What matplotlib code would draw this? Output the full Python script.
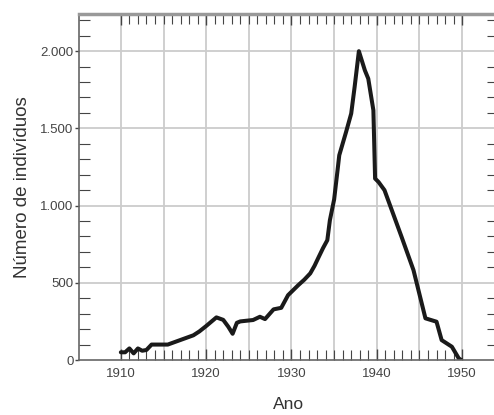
import matplotlib
matplotlib.use("Agg")
import matplotlib.pyplot as plt
from matplotlib.ticker import FixedLocator, FuncFormatter

# values
anos = [1910, 1910.5, 1911, 1911.5, 1912, 1912.5, 1913, 1913.6, 1915.5, 1916.5,
        1917.5, 1918.5, 1919.2, 1920, 1921.2, 1922, 1922.6, 1923.1, 1923.6, 1924,
        1925.5, 1926.3, 1926.9, 1927.9, 1928.8, 1929.6, 1930.8, 1931.5, 1932.2,
        1932.7, 1933.2, 1933.7, 1934.2, 1934.5, 1935, 1935.4, 1935.6, 1936.4,
        1937, 1937.4, 1937.9, 1938.6, 1939.0, 1939.6, 1939.8, 1940.2, 1940.9,
        1942.9, 1944.3, 1945.7, 1947, 1947.6, 1948.8, 1949.6, 1949.9]
individuos = [50, 50, 75, 43, 75, 60, 65, 100, 100, 120,
              140, 160, 185, 220, 276, 260, 215, 170, 241, 250,
              259, 280, 265, 328, 338, 420, 485, 520, 561,
              610, 668, 725, 776, 905, 1040, 1229, 1326, 1477,
              1596, 1768, 2000, 1876, 1822, 1617, 1175, 1153, 1100,
              798, 582, 270, 248, 129, 86, 11, 0]

grade_x = list(range(1910, 1951, 5))
grade_y = [500, 1000, 1500, 2000]
ticks_x = [1910, 1920, 1930, 1940, 1950]
ticks_y = [0, 500, 1000, 1500, 2000]

cinza = "#444444"
plt.rcParams["font.family"] = ["Liberation Sans", "DejaVu Sans"]

fig = plt.figure(figsize=(4.94, 4.15), dpi=100)
ax = fig.add_axes([0.16, 0.1325, 0.848, 0.8335])

for g in grade_x:
    ax.axvline(g, color="#cccccc", lw=1.3, zorder=0)
for g in grade_y:
    ax.axhline(g, color="#cccccc", lw=1.3, zorder=0)

ax.plot(anos, individuos, color="#1a1a1a", lw=2.9,
        solid_joinstyle="round", solid_capstyle="round")

ax.set_xlim(1905.1, 1954.2)
ax.set_ylim(0, 2240)

ax.xaxis.set_major_locator(FixedLocator(ticks_x))
ax.xaxis.set_minor_locator(FixedLocator(range(1910, 1951)))
ax.yaxis.set_major_locator(FixedLocator(ticks_y))
ax.yaxis.set_minor_locator(FixedLocator(range(100, 2201, 100)))
ax.yaxis.set_major_formatter(FuncFormatter(lambda v, p: f"{int(v):,}".replace(",", ".")))

ax.tick_params(axis="x", which="both", direction="in", top=True, bottom=True,
               colors=cinza, labelsize=9.5, pad=6)
ax.tick_params(axis="x", which="major", length=8, width=1)
ax.tick_params(axis="x", which="minor", length=7, width=0.8)
ax.tick_params(axis="y", which="major", direction="out", length=3, width=1,
               colors=cinza, labelsize=9.5, pad=1)
ax.tick_params(axis="y", which="minor", direction="in", length=8, width=0.8,
               right=True, colors=cinza)

for s in ["left", "bottom"]:
    ax.spines[s].set_color("#666666")
    ax.spines[s].set_linewidth(1.2)
ax.spines["top"].set_color("#999999")
ax.spines["top"].set_linewidth(2.5)
ax.spines["right"].set_visible(False)

ax.set_xlabel("Ano", fontsize=12.5, color="#333333", labelpad=12)
ax.set_ylabel("Número de indivíduos", fontsize=13.5, color="#333333", labelpad=7)

fig.savefig("out.png", dpi=100)
